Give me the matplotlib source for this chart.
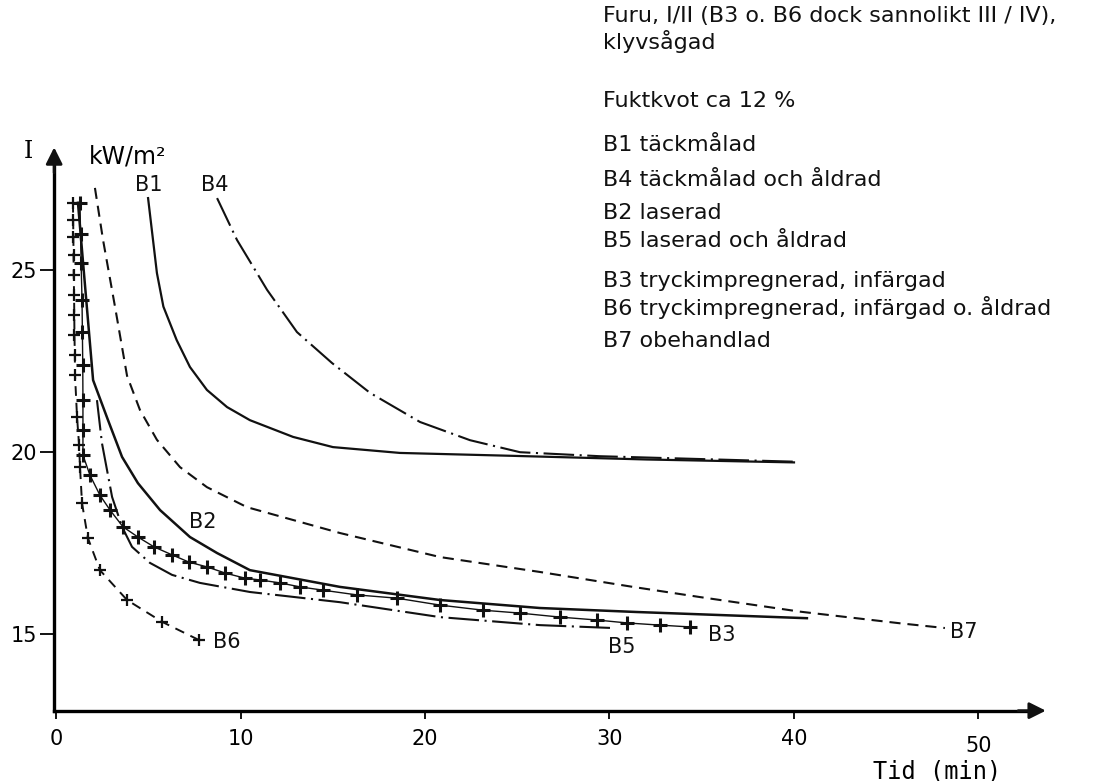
import matplotlib
matplotlib.use("Agg")
import matplotlib.pyplot as plt

plt.rcParams['font.family'] = ['DejaVu Sans']
plt.rcParams['lines.scale_dashes'] = False

# avläsning av kurvorna (tid i min, I i kW/m2)
b1_t = [4.99, 5.47, 5.82, 6.54, 7.26, 8.18, 9.27, 10.51, 12.85, 15.01, 18.64, 24.77, 32.0, 40.0]
b1_i = [26.98, 24.92, 24.00, 23.08, 22.34, 21.71, 21.24, 20.88, 20.42, 20.14, 19.98, 19.90, 19.80, 19.72]

b4_t = [8.73, 9.81, 11.44, 13.06, 14.96, 17.02, 19.73, 22.44, 25.15, 29.48, 40.0]
b4_i = [26.98, 25.83, 24.46, 23.30, 22.45, 21.63, 20.83, 20.33, 20.00, 19.89, 19.74]

b7_t = [2.11, 2.55, 3.20, 3.85, 4.55, 5.47, 6.72, 8.18, 10.35, 15.39, 20.81, 26.23, 31.27, 34.91,
        40.33, 45.75, 48.18]
b7_i = [27.26, 25.83, 23.99, 22.10, 21.16, 20.34, 19.59, 19.04, 18.49, 17.78, 17.12, 16.71, 16.30,
        16.02, 15.62, 15.30, 15.17]

b2_t = [1.19, 2.01, 2.82, 3.58, 4.44, 5.64, 7.26, 8.73, 10.51, 15.39, 20.81, 26.23, 31.49, 40.70]
b2_i = [26.85, 21.98, 20.88, 19.87, 19.15, 18.41, 17.67, 17.23, 16.76, 16.30, 15.94, 15.72, 15.61, 15.44]

b5_t = [2.22, 2.49, 3.04, 3.58, 4.12, 5.09, 6.29, 7.80, 10.51, 15.39, 20.81, 26.23, 30.19]
b5_i = [21.43, 20.25, 18.77, 17.95, 17.40, 16.96, 16.63, 16.41, 16.16, 15.88, 15.47, 15.25, 15.17]

b3_t = [1.30, 1.33, 1.36, 1.41, 1.43, 1.45, 1.46, 1.46, 1.46, 1.84, 2.38, 2.93, 3.63, 4.44, 5.31,
        6.29, 7.21, 8.18, 9.17, 10.24, 11.06, 12.14, 13.23, 14.47, 16.31, 18.48, 20.81, 23.14,
        25.15, 27.32, 29.32, 30.95, 32.74, 34.36]
b3_i = [26.85, 26.0, 25.2, 24.18, 23.3, 22.4, 21.43, 20.6, 19.92, 19.37, 18.82, 18.41, 17.95, 17.67,
        17.40, 17.18, 16.98, 16.85, 16.68, 16.54, 16.49, 16.41, 16.30, 16.21, 16.08, 15.99, 15.80,
        15.66, 15.58, 15.47, 15.39, 15.31, 15.25, 15.20]

b6_t = [0.92, 0.93, 0.94, 0.95, 0.96, 0.98, 0.99, 1.00, 1.02, 1.03, 1.14, 1.25, 1.30, 1.41, 1.73,
        2.38, 3.85, 5.75, 7.75]
b6_i = [26.85, 26.38, 25.92, 25.42, 24.87, 24.32, 23.77, 23.22, 22.67, 22.12, 20.97, 20.2, 19.59,
        18.60, 17.64, 16.76, 15.94, 15.34, 14.84]

x_ticks = [0, 10, 20, 30, 40, 50]
y_ticks = [15, 20, 25]

info = [
    ("Furu, I/II (B3 o. B6 dock sannolikt III / IV),", 22),
    ("klyvsågad", 49),
    ("Fuktkvot ca 12 %", 107),
    ("B1 täckmålad", 151),
    ("B4 täckmålad och åldrad", 186),
    ("B2 laserad", 219),
    ("B5 laserad och åldrad", 247),
    ("B3 tryckimpregnerad, infärgad", 287),
    ("B6 tryckimpregnerad, infärgad o. åldrad", 315),
    ("B7 obehandlad", 347),
]

fig = plt.figure(figsize=(10.94, 7.81), dpi=100)
ax = fig.add_axes([0.0006, 0.0481, 0.9950, 0.7924])
ax.set_xlim(-3, 56)
ax.set_ylim(12.0, 29.0)

dashdot = (0, (22, 4, 1.5, 4))
col = '#111111'

ax.plot(b1_t, b1_i, color=col, lw=1.6)
ax.plot(b4_t, b4_i, color=col, lw=1.5, ls=dashdot)
ax.plot(b7_t, b7_i, color=col, lw=1.5, ls=(0, (8, 5)))
ax.plot(b2_t, b2_i, color=col, lw=1.8)
ax.plot(b5_t, b5_i, color=col, lw=1.5, ls=dashdot)
ax.plot(b3_t, b3_i, color=col, lw=1.0, marker='+', ms=10, mew=2.2)
ax.plot(b6_t, b6_i, color=col, lw=1.4, ls=(0, (7, 5)), marker='+', ms=8, mew=1.6)

# kurvbeteckningar
lab = dict(fontsize=15, ha='center', va='center', color=col)
ax.text(5.0, 27.34, "B1", **lab)
ax.text(8.62, 27.34, "B4", **lab)
ax.text(7.97, 18.07, "B2", **lab)
ax.text(9.27, 14.80, "B6", **lab)
ax.text(30.68, 14.65, "B5", **lab)
ax.text(36.1, 14.98, "B3", **lab)
ax.text(49.2, 15.06, "B7", **lab)

# axlar med pilar
for s in ['top', 'right']:
    ax.spines[s].set_visible(False)
ax.spines['left'].set_position(('data', -0.1))
ax.spines['bottom'].set_position(('data', 12.9))
ax.spines['left'].set_bounds(12.9, 28.0)
ax.spines['bottom'].set_bounds(-0.1, 53.0)
ax.spines['left'].set_linewidth(2.4)
ax.spines['bottom'].set_linewidth(2.4)
ax.annotate('', xy=(53.8, 12.9), xytext=(52.0, 12.9),
            arrowprops=dict(arrowstyle='-|>', color=col, lw=2, mutation_scale=25))
ax.annotate('', xy=(-0.1, 28.45), xytext=(-0.1, 27.6),
            arrowprops=dict(arrowstyle='-|>', color=col, lw=2, mutation_scale=25))

ax.set_xticks(x_ticks)
ax.set_xticklabels([str(v) for v in x_ticks])
ax.set_yticks(y_ticks)
ax.set_yticklabels([str(v) for v in y_ticks])
ax.tick_params(axis='x', direction='out', length=6, width=1.3, pad=7, labelsize=15)
ax.tick_params(axis='y', direction='out', length=10, width=1.3, pad=2, labelsize=15)
ax.xaxis.get_major_ticks()[-1].set_pad(12)

fig.text(28 / 1094, 1 - 152 / 781, "I", fontsize=17, family='DejaVu Serif', ha='center', va='center')
fig.text(128 / 1094, 1 - 157 / 781, "kW/m²", fontsize=17, ha='center', va='center')
fig.text(937 / 1094, 1 - 771 / 781, "Tid (min)", fontsize=17, family='DejaVu Sans Mono',
         ha='center', va='center')

for txt, yb in info:
    fig.text(603 / 1094, 1 - yb / 781, txt, fontsize=16, ha='left', va='baseline', color=col)

fig.savefig('out.png', dpi=100)
